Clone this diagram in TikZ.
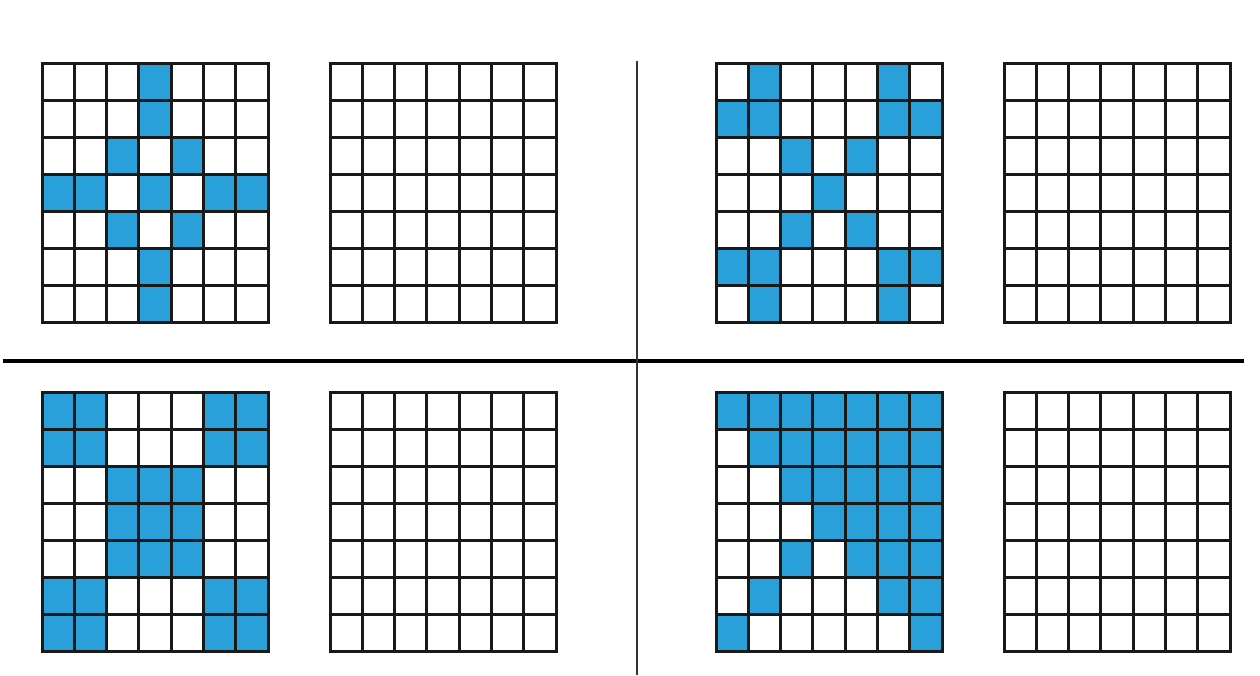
\documentclass[tikz,border=0pt]{standalone}
\usepackage{tikz}
\definecolor{pixblue}{RGB}{41,160,218}

% one 7x7 grid, top left corner at (#1,#2)
\newcommand{\blankgrid}[2]{%
  \foreach \i in {0,...,7} {
    \draw[gridline] (#1+\i*32.3,#2) -- ++(0,259);
    \draw[gridline] (#1,#2+\i*37) -- ++(226.1,0);
  }
}
% same grid, with the cells row/col in #3 filled
\newcommand{\pixgrid}[3]{%
  \foreach \r/\c in {#3} {
    \fill[pixblue] (#1+\c*32.3,#2+\r*37) rectangle ++(32.3,37);
  }
  \blankgrid{#1}{#2}
}

\begin{document}
\begin{tikzpicture}[x=1pt,y=-1pt,
    gridline/.style={line width=3pt,black!90,line cap=rect}]
    \useasboundingbox[fill=white] (0,0) rectangle (1260,675);

    % dividers
    \draw[line width=4pt] (3,360.5) -- (1244,360.5);
    \draw[line width=2pt,black!80] (637,61) -- (637,675);

    % top left
    \pixgrid{42}{63}{0/3,1/3,2/2,2/4,3/0,3/1,3/3,3/5,3/6,4/2,4/4,5/3,6/3}
    \blankgrid{330}{63}

    % top right
    \pixgrid{716}{63}{0/1,0/5,1/0,1/1,1/5,1/6,2/2,2/4,3/3,4/2,4/4,5/0,5/1,5/5,5/6,6/1,6/5}
    \blankgrid{1004}{63}

    % bottom left
    \pixgrid{42}{392}{0/0,0/1,0/5,0/6,1/0,1/1,1/5,1/6,2/2,2/3,2/4,3/2,3/3,3/4,4/2,4/3,4/4,5/0,5/1,5/5,5/6,6/0,6/1,6/5,6/6}
    \blankgrid{330}{392}

    % bottom right
    \pixgrid{716}{392}{0/0,0/1,0/2,0/3,0/4,0/5,0/6,1/1,1/2,1/3,1/4,1/5,1/6,2/2,2/3,2/4,2/5,2/6,3/3,3/4,3/5,3/6,4/2,4/4,4/5,4/6,5/1,5/5,5/6,6/0,6/6}
    \blankgrid{1004}{392}
\end{tikzpicture}
\end{document}
